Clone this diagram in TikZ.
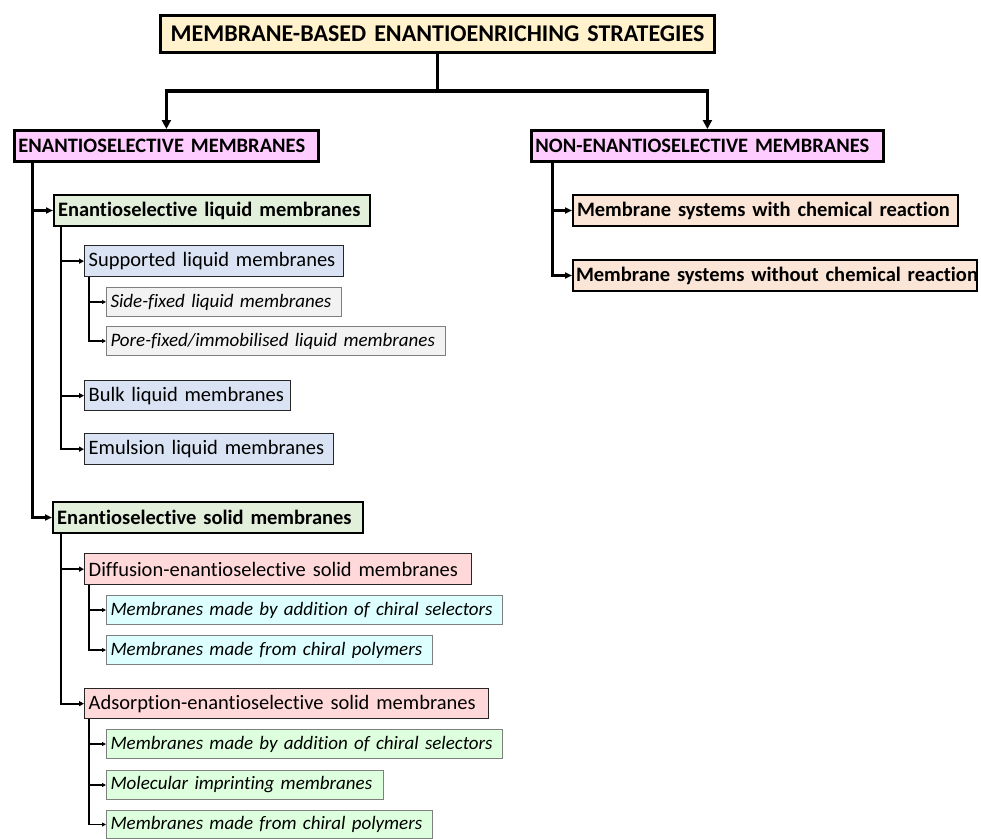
\documentclass[tikz,border=0pt]{standalone}
\usepackage{fontspec}
\setmainfont{Carlito}[Ligatures=NoCommon]
\usetikzlibrary{arrows.meta}

\definecolor{cTitle}{HTML}{FFF2CC}
\definecolor{cTop}{HTML}{FFCCFF}
\definecolor{cGreen}{HTML}{E2EFDA}
\definecolor{cBlue}{HTML}{DAE3F3}
\definecolor{cGrey}{HTML}{F2F2F2}
\definecolor{cRose}{HTML}{FFD9D9}
\definecolor{cCyan}{HTML}{DDFFFF}
\definecolor{cMint}{HTML}{DDFFDD}
\definecolor{cPeach}{HTML}{FBE5D6}
\definecolor{cEdge}{HTML}{7F7F7F}

\tikzset{
  box/.style={draw, rectangle, anchor=north west, inner xsep=4pt, inner ysep=0pt, align=left},
  titlebox/.style={box, fill=cTitle, line width=3pt, align=center, font=\fontsize{24}{26}\selectfont\bfseries},
  topbox/.style={box, fill=cTop, line width=2.8pt, font=\fontsize{20.5}{22}\selectfont\bfseries},
  groupbox/.style={box, line width=2pt, font=\fontsize{20.5}{22}\selectfont\bfseries},
  typebox/.style={box, line width=1.3pt, draw=black!85, font=\fontsize{20.5}{22}\selectfont},
  leafbox/.style={box, line width=1pt, draw=cEdge, font=\fontsize{19}{21}\selectfont\itshape},
  linkA/.style={line width=3.5pt, -{Triangle[length=9pt,width=9pt]}},
  linkB/.style={line width=3pt, -{Triangle[length=7pt,width=6pt]}},
  linkC/.style={line width=2pt, -{Triangle[length=5pt,width=5pt]}},
  linkD/.style={line width=1.2pt, -{Triangle[length=4pt,width=4pt]}},
}

\begin{document}
\begin{tikzpicture}[x=1pt,y=-1pt]
\useasboundingbox (0,0) rectangle (981,838);

% root
\node[titlebox, text width=546, minimum height=37] (root) at (159,14) {\mbox{MEMBRANE-BASED ENANTIOENRICHING STRATEGIES}};

% first level
\node[topbox, text width=296, minimum height=31] (ensel) at (13,129) {\mbox{ENANTIOSELECTIVE MEMBRANES}};
\node[topbox, text width=344, minimum height=31] (nonen) at (530,129) {\mbox{NON-ENANTIOSELECTIVE MEMBRANES}};

% enantioselective liquid membranes
\node[groupbox, fill=cGreen, text width=308, minimum height=31] (esl) at (53,194) {\mbox{Enantioselective liquid membranes}};
\node[typebox, fill=cBlue, text width=251, minimum height=31] (slm) at (84,245) {\mbox{Supported liquid membranes}};
\node[leafbox, fill=cGrey, text width=227, minimum height=29] (side) at (106,287) {\mbox{Side-fixed liquid membranes}};
\node[leafbox, fill=cGrey, text width=331, minimum height=29] (pore) at (106,326) {\mbox{Pore-fixed/immobilised liquid membranes}};
\node[typebox, fill=cBlue, text width=198, minimum height=30] (bulk) at (84,380) {\mbox{Bulk liquid membranes}};
\node[typebox, fill=cBlue, text width=241, minimum height=31] (emul) at (84,433) {\mbox{Emulsion liquid membranes}};

% enantioselective solid membranes
\node[groupbox, fill=cGreen, text width=302, minimum height=31] (ess) at (52,501) {\mbox{Enantioselective solid membranes}};
\node[typebox, fill=cRose, text width=379, minimum height=31] (diff) at (84,553) {\mbox{Diffusion-enantioselective solid membranes}};
\node[leafbox, fill=cCyan, text width=388, minimum height=29] (dadd) at (106,595) {\mbox{Membranes made by addition of chiral selectors}};
\node[leafbox, fill=cCyan, text width=318, minimum height=29] (dpol) at (106,635) {\mbox{Membranes made from chiral polymers}};
\node[typebox, fill=cRose, text width=396, minimum height=30] (ads) at (84,688) {\mbox{Adsorption-enantioselective solid membranes}};
\node[leafbox, fill=cMint, text width=388, minimum height=29] (aadd) at (106,729) {\mbox{Membranes made by addition of chiral selectors}};
\node[leafbox, fill=cMint, text width=269, minimum height=29] (aimp) at (106,770) {\mbox{Molecular imprinting membranes}};
\node[leafbox, fill=cMint, text width=318, minimum height=28] (apol) at (106,810) {\mbox{Membranes made from chiral polymers}};

% non-enantioselective branch
\node[groupbox, fill=cPeach, text width=377, minimum height=31] (with) at (572,194) {\mbox{Membrane systems with chemical reaction}};
\node[groupbox, fill=cPeach, text width=398, minimum height=31, inner xsep=3pt] (without) at (572,259) {\mbox{Membrane systems without chemical reaction}};

% connectors
\draw[linkA] (root.south) -- ++(0,37) -| (ensel.north);
\draw[linkA] (root.south) -- ++(0,37) -| (nonen.north);

\draw[linkB] ([xshift=19pt]ensel.south west) |- (esl.west);
\draw[linkB] ([xshift=19pt]ensel.south west) |- (ess.west);

\draw[linkC] ([xshift=8pt]esl.south west) |- (slm.west);
\draw[linkC] ([xshift=8pt]esl.south west) |- (bulk.west);
\draw[linkC] ([xshift=8pt]esl.south west) |- (emul.west);

\draw[linkD] ([xshift=5pt]slm.south west) |- (side.west);
\draw[linkD] ([xshift=5pt]slm.south west) |- (pore.west);

\draw[linkC] ([xshift=9pt]ess.south west) |- (diff.west);
\draw[linkC] ([xshift=9pt]ess.south west) |- (ads.west);

\draw[linkD] ([xshift=5pt]diff.south west) |- (dadd.west);
\draw[linkD] ([xshift=5pt]diff.south west) |- (dpol.west);

\draw[linkD] ([xshift=5pt]ads.south west) |- (aadd.west);
\draw[linkD] ([xshift=5pt]ads.south west) |- (aimp.west);
\draw[linkD] ([xshift=5pt]ads.south west) |- (apol.west);

\draw[linkB] ([xshift=22pt]nonen.south west) |- (with.west);
\draw[linkB] ([xshift=22pt]nonen.south west) |- (without.west);
\end{tikzpicture}
\end{document}
